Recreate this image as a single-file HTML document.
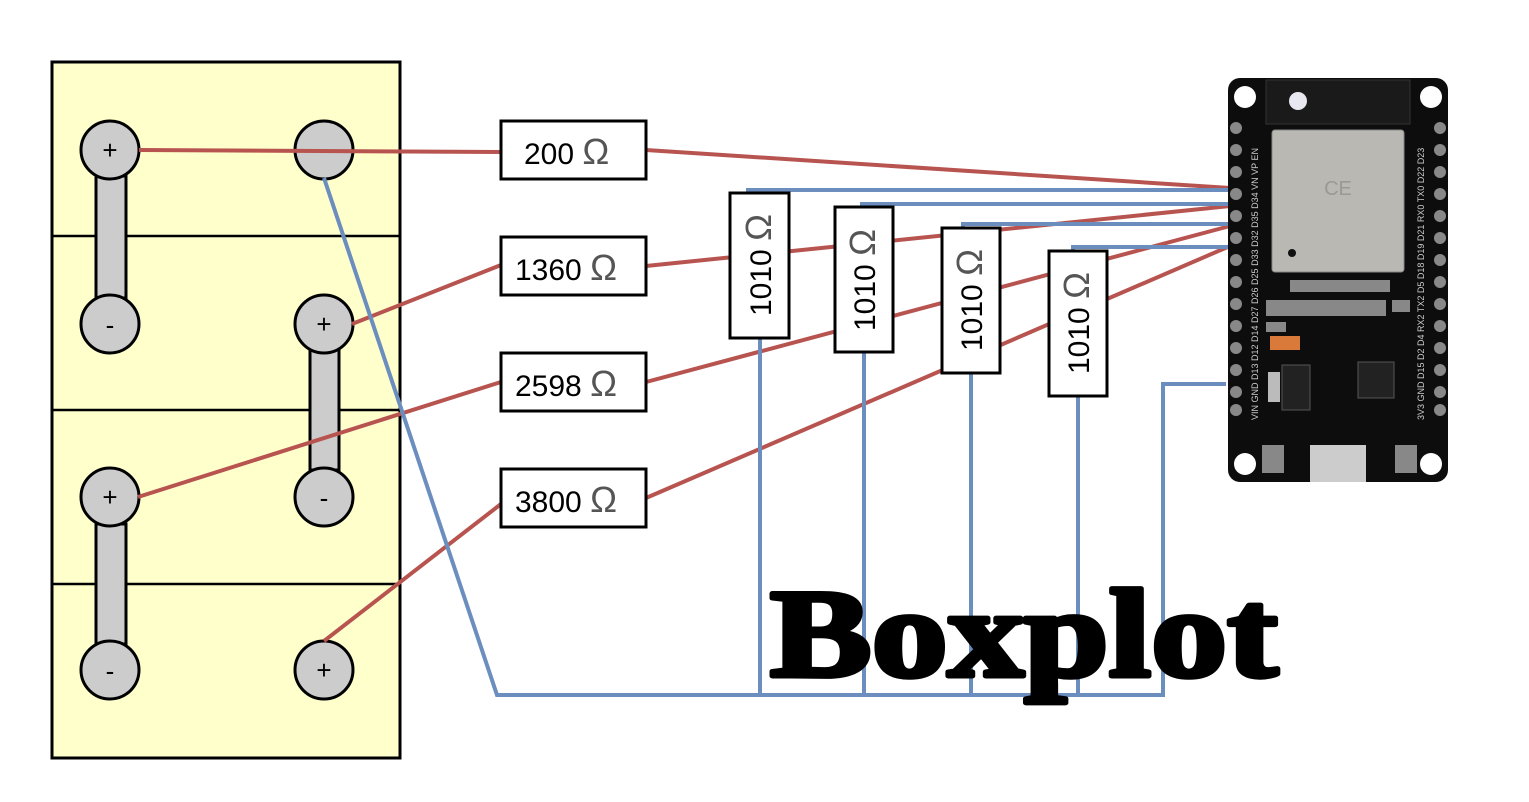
<!DOCTYPE html>
<html><head><meta charset="utf-8"><style>
html,body{margin:0;padding:0;background:#fff;}
svg{display:block;}
</style></head><body>
<svg width="1529" height="802" viewBox="0 0 1529 802" xmlns="http://www.w3.org/2000/svg" font-family="Liberation Sans, sans-serif">
<rect width="1529" height="802" fill="#fff"/>
<rect x="52" y="62" width="348" height="696" fill="#ffffcc" stroke="#000" stroke-width="3"/>
<line x1="52" y1="236" x2="400" y2="236" stroke="#000" stroke-width="2.5"/>
<line x1="52" y1="410" x2="400" y2="410" stroke="#000" stroke-width="2.5"/>
<line x1="52" y1="584" x2="400" y2="584" stroke="#000" stroke-width="2.5"/>
<g fill="#cccccc" stroke="#000" stroke-width="3">
<rect x="96" y="176" width="30" height="122"/>
<rect x="310" y="350" width="29" height="120"/>
<rect x="96" y="524" width="30" height="120"/>
<circle cx="110" cy="150" r="29"/>
<circle cx="324" cy="150" r="29"/>
<circle cx="110" cy="324" r="29"/>
<circle cx="324" cy="324" r="29"/>
<circle cx="110" cy="497" r="29"/>
<circle cx="324" cy="497" r="29"/>
<circle cx="110" cy="670" r="29"/>
<circle cx="324" cy="670" r="29"/>
</g>
<g font-size="26" text-anchor="middle" fill="#000">
<text x="110" y="159">+</text>
<text x="110" y="334">-</text>
<text x="324" y="333">+</text>
<text x="110" y="506">+</text>
<text x="324" y="507">-</text>
<text x="110" y="680">-</text>
<text x="324" y="679">+</text>
</g>
<g stroke="#b85450" stroke-width="4" fill="none">
<line x1="139" y1="150" x2="501" y2="152"/>
<line x1="646" y1="150" x2="1230" y2="188"/>
<line x1="352" y1="324" x2="501" y2="265"/>
<line x1="646" y1="266" x2="1230" y2="206"/>
<line x1="138" y1="497" x2="501" y2="382"/>
<line x1="646" y1="382" x2="1230" y2="226"/>
<line x1="324" y1="641" x2="501" y2="504"/>
<line x1="646" y1="498" x2="1230" y2="246"/>
</g>
<g stroke="#6c8ebf" stroke-width="4" fill="none">
<polyline points="324,178 497,695 1163,695 1163,384 1226,384"/>
<line x1="760" y1="338" x2="760" y2="695"/>
<line x1="864" y1="352" x2="864" y2="695"/>
<line x1="971" y1="373" x2="971" y2="695"/>
<line x1="1078" y1="396" x2="1078" y2="695"/>
<polyline points="748,193 748,190 1230,190"/>
<polyline points="862,207 862,204 1230,204"/>
<polyline points="963,228 963,224 1230,224"/>
<polyline points="1073,251 1073,247 1230,247"/>
</g>
<g fill="#fff" stroke="#000" stroke-width="3">
<rect x="501" y="121" width="145" height="58"/>
<rect x="501" y="237" width="145" height="58"/>
<rect x="501" y="353" width="145" height="58"/>
<rect x="501" y="469" width="145" height="58"/>
<rect x="730" y="193" width="59" height="145"/>
<rect x="835" y="207" width="58" height="145"/>
<rect x="942" y="228" width="58" height="145"/>
<rect x="1049" y="251" width="58" height="145"/>
</g>
<g font-size="30" fill="#000">
<text x="524" y="164">200 <tspan fill="#555" font-size="36">Ω</tspan></text>
<text x="515" y="280">1360 <tspan fill="#555" font-size="36">Ω</tspan></text>
<text x="515" y="396">2598 <tspan fill="#555" font-size="36">Ω</tspan></text>
<text x="515" y="512">3800 <tspan fill="#555" font-size="36">Ω</tspan></text>
<text transform="translate(771,265) rotate(-90)" text-anchor="middle">1010 <tspan fill="#555" font-size="36">Ω</tspan></text>
<text transform="translate(875,280) rotate(-90)" text-anchor="middle">1010 <tspan fill="#555" font-size="36">Ω</tspan></text>
<text transform="translate(982,300) rotate(-90)" text-anchor="middle">1010 <tspan fill="#555" font-size="36">Ω</tspan></text>
<text transform="translate(1089,323) rotate(-90)" text-anchor="middle">1010 <tspan fill="#555" font-size="36">Ω</tspan></text>
</g>
<rect x="1228" y="78" width="220" height="404" rx="12" fill="#0d0d0d"/>
<rect x="1266" y="80" width="144" height="44" fill="#1a1a1a" stroke="#333"/>
<circle cx="1298" cy="101" r="9" fill="#e8e8f0"/>
<g fill="#fff"><circle cx="1245" cy="97" r="11"/><circle cx="1431" cy="97" r="11"/><circle cx="1245" cy="464" r="11"/><circle cx="1431" cy="464" r="11"/></g>
<rect x="1272" y="130" width="132" height="142" rx="3" fill="#b9b8b2" stroke="#888"/>
<circle cx="1292" cy="253" r="4" fill="#111"/>
<text x="1338" y="195" font-size="20" fill="#9a9993" text-anchor="middle">CE</text>
<g fill="#888">
<circle cx="1236" cy="128" r="6"/><circle cx="1236" cy="150" r="6"/><circle cx="1236" cy="172" r="6"/><circle cx="1236" cy="194" r="6"/><circle cx="1236" cy="216" r="6"/><circle cx="1236" cy="238" r="6"/><circle cx="1236" cy="260" r="6"/><circle cx="1236" cy="282" r="6"/><circle cx="1236" cy="304" r="6"/><circle cx="1236" cy="326" r="6"/><circle cx="1236" cy="348" r="6"/><circle cx="1236" cy="370" r="6"/><circle cx="1236" cy="392" r="6"/><circle cx="1236" cy="410" r="6"/>
<circle cx="1440" cy="128" r="6"/><circle cx="1440" cy="150" r="6"/><circle cx="1440" cy="172" r="6"/><circle cx="1440" cy="194" r="6"/><circle cx="1440" cy="216" r="6"/><circle cx="1440" cy="238" r="6"/><circle cx="1440" cy="260" r="6"/><circle cx="1440" cy="282" r="6"/><circle cx="1440" cy="304" r="6"/><circle cx="1440" cy="326" r="6"/><circle cx="1440" cy="348" r="6"/><circle cx="1440" cy="370" r="6"/><circle cx="1440" cy="392" r="6"/><circle cx="1440" cy="410" r="6"/>
</g>
<g fill="#888"><rect x="1290" y="280" width="100" height="12"/><rect x="1266" y="300" width="120" height="16"/><rect x="1266" y="322" width="20" height="10"/><rect x="1392" y="300" width="18" height="12"/></g>
<rect x="1270" y="336" width="30" height="14" fill="#d9793a"/>
<rect x="1268" y="372" width="12" height="30" fill="#bbb"/><rect x="1282" y="365" width="28" height="45" fill="#222" stroke="#555"/>
<rect x="1358" y="362" width="36" height="36" fill="#222" stroke="#555"/>
<rect x="1262" y="445" width="22" height="28" fill="#888"/><rect x="1395" y="445" width="22" height="28" fill="#888"/>
<rect x="1310" y="445" width="56" height="37" fill="#ccc"/>
<g font-size="9" fill="#ccc">
<text transform="translate(1258,420) rotate(-90)">VIN GND D13 D12 D14 D27 D26 D25 D33 D32 D35 D34 VN VP EN</text>
<text transform="translate(1424,420) rotate(-90)">3V3 GND D15 D2 D4 RX2 TX2 D5 D18 D19 D21 RX0 TX0 D22 D23</text>
</g>
<text x="770" y="676" font-family="Liberation Serif, serif" font-weight="bold" font-size="126" textLength="508" lengthAdjust="spacingAndGlyphs" fill="#000" stroke="#000" stroke-width="5" stroke-linejoin="round">Boxplot</text>
</svg>
</body></html>
